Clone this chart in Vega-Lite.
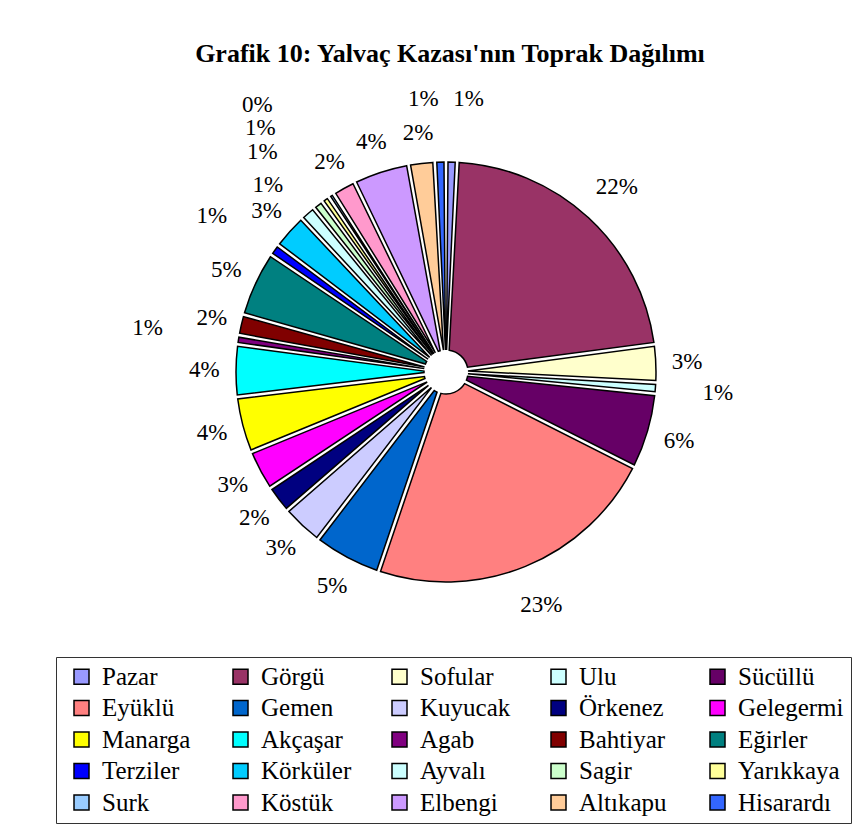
{
  "$schema": "https://vega.github.io/schema/vega-lite/v6.json",
  "autosize": {"type": "none"},
  "padding": {"left": 32, "top": 80, "right": 0, "bottom": 163},
  "width": 828,
  "height": 584,
  "background": "#ffffff",
  "config": {"view": {"stroke": null}},
  "title": {
    "text": "Grafik 10: Yalvaç Kazası'nın Toprak Dağılımı",
    "font": "Liberation Serif",
    "fontSize": 26,
    "fontWeight": "bold",
    "color": "#000000",
    "anchor": "middle",
    "dx": 4,
    "offset": 13
  },
  "data": {
    "values": [
      {"n": 1, "ad": "Pazar", "v": 0.0085},
      {"n": 2, "ad": "Görgü", "v": 0.2205},
      {"n": 3, "ad": "Sofular", "v": 0.029},
      {"n": 4, "ad": "Ulu", "v": 0.0085},
      {"n": 5, "ad": "Sücüllü", "v": 0.058},
      {"n": 6, "ad": "Eyüklü", "v": 0.2275},
      {"n": 7, "ad": "Gemen", "v": 0.052},
      {"n": 8, "ad": "Kuyucak", "v": 0.032},
      {"n": 9, "ad": "Örkenez", "v": 0.021},
      {"n": 10, "ad": "Gelegermi", "v": 0.031},
      {"n": 11, "ad": "Manarga", "v": 0.043},
      {"n": 12, "ad": "Akçaşar", "v": 0.040},
      {"n": 13, "ad": "Agab", "v": 0.007},
      {"n": 14, "ad": "Bahtiyar", "v": 0.016},
      {"n": 15, "ad": "Eğirler", "v": 0.050},
      {"n": 16, "ad": "Terziler", "v": 0.009},
      {"n": 17, "ad": "Körküler", "v": 0.027},
      {"n": 18, "ad": "Ayvalı", "v": 0.012},
      {"n": 19, "ad": "Sagir", "v": 0.008},
      {"n": 20, "ad": "Yarıkkaya", "v": 0.006},
      {"n": 21, "ad": "Surk", "v": 0.0045},
      {"n": 22, "ad": "Köstük", "v": 0.018},
      {"n": 23, "ad": "Elbengi", "v": 0.043},
      {"n": 24, "ad": "Altıkapu", "v": 0.020},
      {"n": 25, "ad": "Hisarardı", "v": 0.0085}
    ]
  },
  "encoding": {
    "theta": {"field": "v", "type": "quantitative", "stack": true},
    "order": {"field": "n", "type": "quantitative"}
  },
  "layer": [
    {
      "mark": {
        "type": "arc",
        "outerRadius": 210,
        "innerRadius": 22,
        "padAngle": 0.019,
        "stroke": "#000000",
        "strokeWidth": 1.5
      },
      "encoding": {
        "color": {
          "field": "ad",
          "type": "nominal",
          "scale": {
            "domain": ["Pazar", "Görgü", "Sofular", "Ulu", "Sücüllü", "Eyüklü", "Gemen", "Kuyucak", "Örkenez", "Gelegermi", "Manarga", "Akçaşar", "Agab", "Bahtiyar", "Eğirler", "Terziler", "Körküler", "Ayvalı", "Sagir", "Yarıkkaya", "Surk", "Köstük", "Elbengi", "Altıkapu", "Hisarardı"],
            "range": ["#9999FF", "#993366", "#FFFFCC", "#CCFFFF", "#660066", "#FF8080", "#0066CC", "#CCCCFF", "#000080", "#FF00FF", "#FFFF00", "#00FFFF", "#800080", "#800000", "#008080", "#0000FF", "#00CCFF", "#CCFFFF", "#CCFFCC", "#FFFF99", "#99CCFF", "#FF99CC", "#CC99FF", "#FFCC99", "#3366FF"]
          },
          "legend": {
            "title": null,
            "orient": "none",
            "direction": "horizontal",
            "legendX": 24,
            "legendY": 577,
            "columns": 5,
            "gridAlign": "all",
            "columnPadding": 14,
            "rowPadding": 5.5,
            "padding": 7,
            "symbolOffset": 6,
            "strokeColor": "#333333",
            "symbolType": "square",
            "symbolSize": 225,
            "symbolStrokeColor": "#000000",
            "symbolStrokeWidth": 1.5,
            "symbolOpacity": 1,
            "labelFont": "Liberation Serif",
            "labelFontSize": 25,
            "labelColor": "#000000",
            "labelOffset": 8,
            "labelLimit": 300
          }
        }
      }
    },
    {
      "mark": {
        "type": "text",
        "font": "Liberation Serif",
        "fontSize": 23,
        "color": "#000000",
        "align": {"expr": "datum.v < 0.013 && ((datum.v_start + datum.v_end) / 2 < 0.25 || (datum.v_start + datum.v_end) / 2 > 0.75) ? ((datum.v_start + datum.v_end) / 2 < 0.5 ? 'left' : 'right') : 'center'"}
      },
      "encoding": {
        "radius": {
          "field": "v",
          "type": "quantitative",
          "scale": {"type": "log", "domain": [0.0045, 0.012, 0.013, 0.05, 0.23], "range": [318, 248, 240, 242, 252], "clamp": true, "zero": false}
        },
        "text": {"field": "v", "type": "quantitative", "format": ".0%"}
      }
    }
  ]
}
